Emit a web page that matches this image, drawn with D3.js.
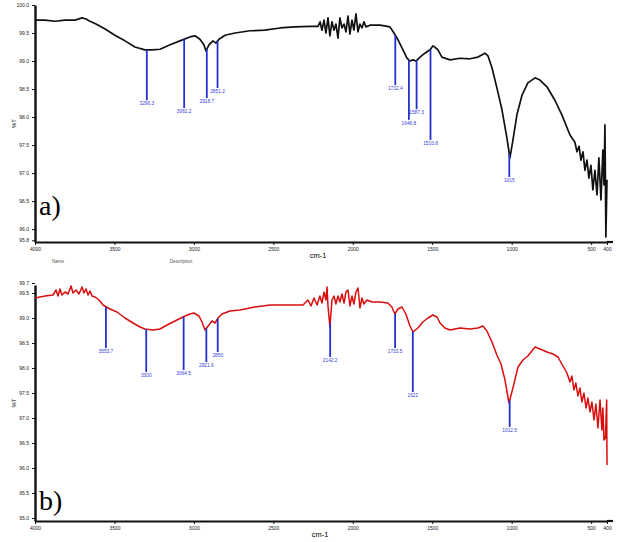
<!DOCTYPE html>
<html>
<head>
<meta charset="utf-8">
<script src="https://cdnjs.cloudflare.com/ajax/libs/d3/7.8.5/d3.min.js"></script>
<style>
  body { margin: 0; background: #fff; }
  svg text { font-family: "Liberation Sans", Arial, sans-serif; }
  .axis path, .axis line { stroke: #111; }
  .axis text { font-size: 5px; fill: #222; }
</style>
</head>
<body>
<div id="chart"></div>
<script>
// spectrum a) (black)
var waveA = [4000, 3937, 3874, 3811, 3748, 3704, 3679, 3654, 3616, 3559, 3497, 3434, 3371, 3308, 3264, 3213,
  3150, 3088, 3025, 2993, 2962, 2937, 2924, 2905, 2880, 2861, 2842, 2804, 2741, 2647, 2553, 2458, 2364, 2269,
  2219, 2206, 2194, 2181, 2169, 2156, 2144, 2131, 2118, 2106, 2093, 2081, 2068, 2055, 2043, 2030, 2018, 2005,
  1993, 1980, 1967, 1955, 1942, 1930, 1917, 1892, 1829, 1766, 1741, 1716, 1684, 1659, 1640, 1621, 1602, 1577,
  1546, 1514, 1496, 1483, 1464, 1439, 1388, 1325, 1263, 1212, 1168, 1149, 1124, 1093, 1061, 1030, 1011, 992,
  967, 935, 898, 853, 822, 778, 728, 684, 633, 602, 589, 576, 564, 551, 539, 526, 514, 501, 489, 476, 463,
  451, 438, 426, 419, 413, 407, 400];
var transA = [99.73, 99.73, 99.71, 99.73, 99.73, 99.77, 99.75, 99.71, 99.66, 99.57, 99.46, 99.36, 99.25, 99.20, 99.20, 99.21,
  99.29, 99.36, 99.43, 99.45, 99.39, 99.29, 99.18, 99.29, 99.36, 99.32, 99.39, 99.46, 99.50, 99.54, 99.55, 99.59, 99.61, 99.62,
  99.62, 99.70, 99.55, 99.73, 99.50, 99.77, 99.45, 99.70, 99.55, 99.66, 99.41, 99.77, 99.59, 99.66, 99.52, 99.80, 99.48, 99.73,
  99.55, 99.84, 99.52, 99.66, 99.59, 99.70, 99.61, 99.64, 99.64, 99.61, 99.50, 99.38, 99.20, 99.05, 99.00, 99.02, 99.00, 99.07,
  99.14, 99.20, 99.27, 99.25, 99.20, 99.07, 99.02, 99.05, 99.04, 99.07, 99.14, 99.09, 98.88, 98.52, 98.13, 97.63, 97.27, 97.59,
  98.04, 98.39, 98.61, 98.70, 98.66, 98.54, 98.30, 98.04, 97.68, 97.55, 97.38, 97.48, 97.23, 97.38, 97.05, 97.23, 96.91, 97.14, 96.70, 97.05, 96.61,
  97.27, 96.52, 97.41, 96.79, 97.86, 95.86, 96.88];

// spectrum b) (red)
var waveB = [4000, 3937, 3887, 3868, 3855, 3843, 3830, 3811, 3792, 3773, 3761, 3742, 3723, 3704, 3692, 3679,
  3666, 3654, 3641, 3622, 3597, 3572, 3528, 3484, 3434, 3383, 3339, 3308, 3257, 3213, 3169, 3119, 3069, 3025,
  3000, 2968, 2949, 2930, 2905, 2886, 2867, 2848, 2823, 2773, 2710, 2616, 2521, 2427, 2313, 2282, 2263, 2244,
  2225, 2207, 2194, 2181, 2169, 2162, 2156, 2144, 2131, 2118, 2106, 2093, 2081, 2068, 2055, 2043, 2030, 2018,
  2005, 1993, 1980, 1967, 1955, 1942, 1930, 1911, 1879, 1829, 1779, 1754, 1735, 1716, 1691, 1666, 1640, 1621,
  1590, 1559, 1527, 1496, 1470, 1451, 1420, 1388, 1325, 1263, 1212, 1181, 1156, 1124, 1093, 1067, 1042, 1017,
  992, 960, 929, 898, 853, 822, 778, 740, 709, 677, 652, 633, 621, 608, 596, 583, 570, 558, 545, 532, 520,
  507, 495, 482, 470, 457, 444, 432, 426, 419, 410, 405, 402, 400];
var transB = [99.40, 99.44, 99.46, 99.56, 99.44, 99.58, 99.46, 99.52, 99.48, 99.64, 99.50, 99.56, 99.48, 99.62, 99.50, 99.58,
  99.46, 99.54, 99.44, 99.42, 99.36, 99.26, 99.18, 99.12, 99.00, 98.90, 98.82, 98.78, 98.76, 98.78, 98.86, 98.94, 99.02, 99.08,
  99.10, 99.04, 98.92, 98.76, 98.86, 98.94, 98.90, 99.00, 99.08, 99.14, 99.16, 99.22, 99.26, 99.26, 99.26, 99.36, 99.24, 99.40,
  99.26, 99.44, 99.30, 99.52, 99.36, 99.62, 99.24, 98.82, 99.36, 99.44, 99.28, 99.44, 99.32, 99.48, 99.30, 99.52, 99.56, 99.24,
  99.44, 99.28, 99.52, 99.60, 99.20, 99.40, 99.28, 99.36, 99.32, 99.32, 99.30, 99.22, 99.08, 99.18, 99.22, 99.08, 98.84, 98.72,
  98.80, 98.92, 99.00, 99.06, 99.02, 98.90, 98.80, 98.76, 98.80, 98.78, 98.80, 98.84, 98.74, 98.52, 98.26, 98.08, 97.76, 97.30,
  97.60, 98.02, 98.16, 98.24, 98.42, 98.38, 98.32, 98.28, 98.22, 98.04, 97.90, 97.72, 97.84, 97.56, 97.70, 97.44, 97.60, 97.32, 97.50, 97.20, 97.40,
  97.12, 97.32, 96.96, 97.28, 96.80, 97.36, 96.76, 97.20, 96.56, 96.60, 97.10, 97.36, 96.06];

// peak annotations: wavenumber, label, %T where the marker ends
var peaksA = [3296.3, 3061.2, 2918.7, 2851.2, 1732.4, 1646.8, 1598.3, 1510.8, 1015];
var peakLabelsA = ["3296.3", "3061.2", "2918.7", "2851.2", "1732.4", "1646.8", "1587.3", "1510.8", "1015"];
var peakEndA = [98.30, 98.16, 98.34, 98.52, 98.57, 97.95, 98.14, 97.59, 96.93];

var peaksB = [3553.7, 3300, 3064.5, 2921.6, 2850, 2142.2, 1733.5, 1622, 1012.5];
var peakLabelsB = ["3553.7", "3300", "3064.5", "2921.6", "2850", "2142.2", "1733.5", "1622", "1012.5"];
var peakEndB = [98.40, 97.92, 97.96, 98.12, 98.32, 98.22, 98.40, 97.52, 96.82];

// axis ticks
var xTicks = [4000, 3500, 3000, 2500, 2000, 1500, 1000, 500, 400];
var yTicksA = [100.0, 99.5, 99.0, 98.5, 98.0, 97.5, 97.0, 96.5, 96.0, 95.8];
var yTicksB = [99.7, 99.5, 99.0, 98.5, 98.0, 97.5, 97.0, 96.5, 96.0, 95.5, 95.0];

var width = 618, height = 542;

var svg = d3.select("#chart")
  .append("svg")
  .attr("width", width)
  .attr("height", height);

function drawPanel(opt) {
  var x = d3.scaleLinear().domain([4000, 400]).range([35, 607]);
  var y = d3.scaleLinear().domain(opt.yDomain).range([opt.bottom, opt.top]);
  var g = svg.append("g");

  // axes
  var xa = g.append("g")
    .attr("class", "axis")
    .attr("transform", "translate(0," + opt.bottom + ")")
    .call(d3.axisBottom(x).tickValues(xTicks).tickSize(3).tickSizeOuter(0).tickFormat(d3.format("d")));
  xa.select(".domain").attr("stroke-width", 2.2);
  xa.selectAll("text").attr("dy", "0.5em");

  var ya = g.append("g")
    .attr("class", "axis")
    .attr("transform", "translate(35,0)")
    .call(d3.axisLeft(y).tickValues(opt.yTicks).tickSize(3).tickSizeOuter(0).tickFormat(d3.format(".1f")));
  ya.select(".domain").attr("stroke-width", 2.4);

  g.append("line")
    .attr("x1", 607).attr("x2", 613)
    .attr("y1", opt.bottom).attr("y2", opt.bottom)
    .attr("stroke", "#111").attr("stroke-width", 2.2);

  g.append("text")
    .attr("transform", "translate(16," + ((opt.top + opt.bottom) / 2) + ") rotate(-90)")
    .attr("text-anchor", "middle")
    .style("font-size", "6px")
    .text("%T");

  g.append("text")
    .attr("x", opt.cmX).attr("y", opt.bottom + 16)
    .attr("text-anchor", "middle")
    .style("font-size", "7.5px")
    .text("cm-1");

  // spectrum
  var pts = d3.zip(opt.wave, opt.trans);
  g.append("path")
    .datum(pts)
    .attr("fill", "none")
    .attr("stroke", opt.color)
    .attr("stroke-width", opt.lw)
    .attr("stroke-linejoin", "round")
    .attr("d", d3.line().x(function(d) { return x(d[0]); }).y(function(d) { return y(d[1]); }));

  // curve value at a peak position
  var bis = d3.bisector(function(d) { return -d[0]; }).left;
  function curveAt(w) {
    var i = bis(pts, -w);
    if (i <= 0) return pts[0][1];
    var a = pts[i - 1], b = pts[i];
    var t = (w - a[0]) / (b[0] - a[0]);
    return a[1] + t * (b[1] - a[1]);
  }

  var pk = g.selectAll(".peak")
    .data(opt.peaks)
    .enter().append("g")
    .attr("class", "peak");

  pk.append("line")
    .attr("x1", function(d) { return x(d); })
    .attr("x2", function(d) { return x(d); })
    .attr("y1", function(d) { return y(curveAt(d)); })
    .attr("y2", function(d, i) { return y(opt.peakEnd[i]); })
    .attr("stroke", "#2430d0")
    .attr("stroke-width", 1.8);

  pk.append("text")
    .attr("x", function(d) { return x(d); })
    .attr("y", function(d, i) { return y(opt.peakEnd[i]) + 5; })
    .attr("text-anchor", "middle")
    .style("font-size", "4.8px")
    .style("fill", "#3340e0")
    .text(function(d, i) { return opt.peakLabels[i]; });

  g.append("text")
    .attr("x", 39).attr("y", opt.bottom - 27 + opt.tagShift)
    .style("font-family", "'Liberation Serif', 'Times New Roman', serif")
    .style("font-size", "28px")
    .text(opt.tag);

  return g;
}

var ga = drawPanel({
  wave: waveA, trans: transA, color: "#111", lw: 1.7,
  yDomain: [95.77, 100.0], yTicks: yTicksA, top: 5, bottom: 242,
  peaks: peaksA, peakLabels: peakLabelsA, peakEnd: peakEndA,
  tag: "a)", tagShift: 0, cmX: 318
});

ga.append("text").attr("x", 58).attr("y", 263)
  .attr("text-anchor", "middle").style("font-size", "4.5px").style("fill", "#555").text("Name");
ga.append("text").attr("x", 181).attr("y", 263)
  .attr("text-anchor", "middle").style("font-size", "4.5px").style("fill", "#555").text("Description");

drawPanel({
  wave: waveB, trans: transB, color: "#d90d0d", lw: 1.5,
  yDomain: [94.94, 99.66], yTicks: yTicksB, top: 285, bottom: 521,
  peaks: peaksB, peakLabels: peakLabelsB, peakEnd: peakEndB,
  tag: "b)", tagShift: 16, cmX: 320
});
</script>
</body>
</html>
